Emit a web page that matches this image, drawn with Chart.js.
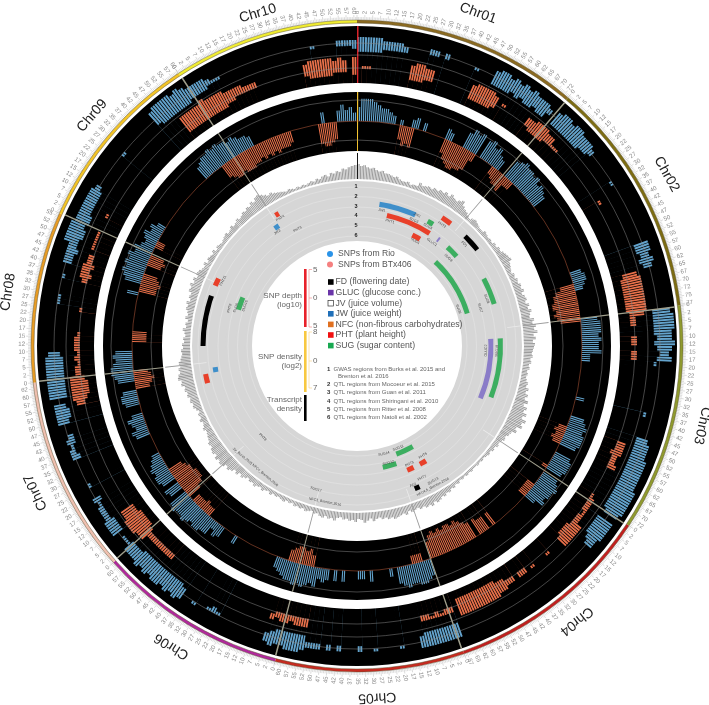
<!DOCTYPE html>
<html>
<head>
<meta charset="utf-8">
<style>body{margin:0;background:#fff}canvas{display:block}</style>
<script src="https://cdn.jsdelivr.net/npm/chart.js@4/dist/chart.umd.js"></script>
</head>
<body>
<canvas id="circos" width="709" height="705"></canvas>
<script>
let chrNames = ["Chr01","Chr02","Chr03","Chr04","Chr05","Chr06","Chr07","Chr08","Chr09","Chr10"];
let chrLengths = [74,78,74.5,68.5,62,62,64.5,56,60,61];
let chrColours = ["#8b6a20","#7d6d12","#8f9a2e","#c21f1f","#c62a20","#b0289c","#f0c0b0","#e89c24","#f2c326","#f0ec30"];
let chrLabelAngle = [20,61,103,141.4,176.7,211.7,245.5,278.8,311,343.4];
let chrLabelRadius = [354,354,354,352,352,353,353,353,351,347];

// one value per degree, ten per row, clockwise from Chr01 start
let depthRio = [
5,8,8,8,7,6,5,5,4,3, 0,2,0,0,3,4,0,3,0,0, 0,0,0,4,3,0,0,0,6,8, 7,8,0,7,8,6,7,5,4,0,
0,7,8,9,8,8,7,8,6,7, 6,5,0,0,0,0,0,0,0,0, 0,0,0,0,0,0,0,0,0,0, 0,4,5,5,4,3,0,0,0,0,
0,0,0,6,7,7,7,6,7,6, 6,7,3,3,0,0,0,0,0,0, 0,0,0,3,0,0,0,0,5,6, 7,6,7,7,7,6,0,0,6,7,
7,7,6,0,6,7,8,7,7,6, 7,4,0,0,0,0,0,0,0,0, 0,0,0,0,0,0,0,0,0,0, 0,0,0,0,0,0,0,0,0,0,
0,6,7,8,8,7,7,8,7,6, 0,3,0,0,0,0,4,0,3,3, 0,0,0,4,0,4,0,4,5,4, 7,6,7,8,7,8,7,7,6,5,
4,0,0,0,0,0,0,0,0,0, 0,0,3,0,0,0,4,5,3,6, 6,7,7,6,7,8,7,7,8,7, 0,5,6,0,5,6,6,5,6,5,
4,3,0,0,0,0,0,5,6,4, 5,6,4,0,0,5,6,6,5,0, 0,6,7,8,8,7,6,7,6,0, 0,0,0,0,0,0,0,0,0,0,
0,0,0,4,0,0,6,7,8,7, 8,7,8,6,7,5,4,5,6,4, 5,3,0,0,0,0,0,0,0,0, 0,0,0,0,0,0,0,0,5,6,
7,7,8,7,8,7,7,6,7,6, 5,5,4,0,0,0,0,0,0,0, 0,0,0,0,0,0,0,0,0,0, 0,4,0,0,0,4,6,4,5,3];
let depthBTx = [
0,0,0,0,0,0,0,0,0,0, 0,5,7,6,7,0,0,0,0,0, 0,0,0,5,7,8,9,9,8,8, 7,3,0,0,0,0,0,3,4,5,
5,6,3,3,0,0,0,0,0,0, 0,0,0,0,0,0,0,0,0,0, 0,0,0,0,0,0,0,0,0,0, 0,0,0,0,5,7,8,8,9,9,
8,9,8,7,0,0,0,0,0,0, 0,0,0,0,0,0,0,0,0,0, 0,0,0,0,0,0,0,0,0,0, 0,3,4,3,4,3,0,0,0,0,
0,0,2,0,0,0,0,0,3,3, 3,3,0,0,0,0,0,0,0,0, 0,0,5,0,5,5,6,0,6,7, 8,9,8,9,9,8,9,8,9,8,
6,0,0,3,3,3,0,0,0,0, 0,0,0,0,0,0,0,0,0,0, 0,0,0,0,0,0,0,0,0,0, 0,4,6,5,6,6,5,4,0,0,
0,0,0,0,0,0,0,0,0,0, 0,0,0,0,0,0,0,0,0,0, 0,3,3,4,3,3,3,0,5,7, 8,8,8,7,7,6,5,0,0,0,
0,0,0,0,0,0,0,0,0,0, 0,0,0,0,0,0,0,0,0,5, 6,7,6,5,0,0,0,0,0,0, 0,5,5,5,0,0,0,0,0,0,
0,0,0,0,6,6,7,6,5,0, 0,5,6,5,0,0,3,3,0,0, 0,0,0,0,0,0,0,0,0,0, 0,0,0,0,0,0,0,0,0,0,
0,0,0,5,6,7,7,6,7,7, 7,6,6,5,6,5,6,5,6,5, 5,5,4,0,0,0,0,0,0,0, 7,8,8,7,6,0,0,0,0,0];

let densityRioHigh = [
6,6,6,6,6,5,5,5,5,4, 0,0,0,0,5,5,0,5,0,0, 0,0,0,4,0,0,0,6,7,7, 6,7,6,7,6,7,6,6,6,5,
0,6,7,7,6,7,7,6,6,6, 5,0,0,0,0,0,0,4,0,0, 0,0,0,0,0,0,0,0,0,0, 6,6,5,6,5,0,0,0,0,0,
0,0,0,8,9,9,9,8,8,9, 8,7,8,3,0,0,0,0,0,0, 0,0,0,2,0,0,0,0,5,6, 6,6,7,7,7,7,7,7,8,8,
8,8,8,7,0,7,7,7,7,6, 6,0,0,0,0,0,0,0,0,0, 0,0,0,0,0,0,0,0,0,0, 0,0,0,0,0,0,0,0,0,0,
6,6,6,6,6,6,6,6,0,0, 0,5,0,0,0,0,5,0,0,5, 0,0,0,5,0,5,0,5,5,5, 6,7,7,7,6,6,7,6,0,0,
0,0,0,0,0,0,0,4,4,4, 0,0,5,0,0,6,7,6,7,6, 7,7,6,7,6,7,6,6,6,4, 4,0,6,6,6,5,5,5,4,5,
0,0,4,0,0,0,0,0,5,5, 4,5,4,0,0,6,6,6,6,0, 7,7,7,7,7,7,7,7,6,0, 0,0,0,0,0,0,0,0,4,4,
0,0,0,4,0,0,5,5,5,5, 7,7,7,7,6,6,6,6,6,6, 6,5,0,0,0,0,0,0,0,4, 0,0,0,0,0,0,0,0,7,8,
8,8,8,7,8,7,6,6,6,6, 5,4,4,0,0,0,0,0,0,0, 0,0,0,0,0,0,0,0,0,0, 0,4,0,0,0,0,5,5,5,5];
let densityRioLow = [
1,1,1,1,1,2,2,2,2,2, 0,0,0,0,3,3,0,3,0,0, 0,0,0,3,0,0,0,1,1,1, 1,2,1,2,1,1,2,1,1,3,
0,1,1,1,1,1,1,1,2,2, 3,0,0,0,0,0,0,3,0,0, 0,0,0,0,0,0,0,0,0,0, 1,1,2,1,2,0,0,0,0,0,
0,0,0,2,2,2,2,2,3,2, 3,4,3,2,0,0,0,0,0,0, 0,0,0,1,0,0,0,0,1,1, 1,1,1,1,1,1,1,1,1,1,
1,1,1,2,0,1,1,1,1,2, 3,0,0,0,0,0,0,0,0,0, 0,0,0,0,0,0,0,0,0,0, 0,0,0,0,0,0,0,0,0,0,
1,1,1,1,1,1,1,2,0,0, 0,4,0,0,0,0,4,0,0,3, 0,0,0,3,0,3,0,3,3,3, 1,1,1,1,1,1,2,3,0,0,
0,0,0,0,0,0,0,3,2,3, 0,0,4,0,0,2,1,1,1,1, 1,1,1,1,1,1,2,2,2,3, 3,0,2,2,2,3,3,3,3,2,
0,0,3,0,0,0,0,0,2,3, 3,2,2,0,0,2,1,1,2,0, 1,1,1,1,1,1,1,1,2,0, 0,0,0,0,0,0,0,0,3,3,
0,0,0,3,0,0,2,2,1,2, 2,1,1,2,1,1,2,2,2,2, 2,3,0,0,0,0,0,0,0,3, 0,0,0,0,0,0,0,0,2,1,
1,1,1,1,1,1,2,2,2,2, 3,3,3,0,0,0,0,0,0,0, 0,0,0,0,0,0,0,0,0,0, 0,3,0,0,0,0,3,3,3,2];
let densityBTxHigh = [
0,4,4,0,0,0,0,0,0,0, 0,6,7,7,6,6,0,0,0,0, 0,0,0,0,6,7,7,7,7,6, 0,5,0,0,0,0,0,6,6,7,
7,7,6,6,4,4,0,0,0,0, 0,0,0,0,0,0,0,0,0,5, 0,0,0,0,0,0,0,0,0,0, 0,0,0,0,0,7,8,8,8,8,
8,8,8,7,4,4,0,0,4,4, 0,4,4,0,0,0,0,0,0,0, 0,0,0,0,0,0,0,0,0,0, 6,6,6,5,5,6,0,0,0,0,
0,0,4,5,5,5,5,5,5,7, 7,7,7,7,0,0,0,5,0,0, 0,5,0,5,5,0,5,5,6,6, 7,7,7,7,7,7,7,7,7,0,
5,5,5,5,5,5,5,0,0,0, 0,0,0,0,0,0,0,0,0,0, 0,0,0,0,0,0,0,0,0,0, 6,6,6,5,6,6,5,6,0,0,
0,0,0,0,0,0,0,0,0,0, 0,0,0,0,0,0,0,0,0,0, 0,5,5,5,5,5,5,5,7,7, 8,8,8,7,7,0,0,0,0,0,
0,0,0,0,0,0,0,0,0,0, 0,0,0,0,0,0,0,0,6,7, 7,7,7,7,5,5,4,5,4,5, 5,5,4,0,0,0,0,4,0,0,
0,0,0,5,6,6,6,5,5,0, 5,5,5,5,0,0,0,5,0,0, 0,0,0,0,0,0,0,0,0,0, 0,0,0,0,0,0,0,0,0,0,
0,0,7,7,7,7,7,8,7,7, 7,7,6,6,6,6,5,5,5,0, 0,0,0,0,0,0,0,0,0,6, 7,7,7,7,7,6,7,6,0,7];
let densityBTxLow = [
0,3,3,0,0,0,0,0,0,0, 0,1,1,1,2,2,0,0,0,0, 0,0,0,0,1,1,1,1,1,2, 0,4,0,0,0,0,0,3,2,2,
2,2,3,3,3,3,0,0,0,0, 0,0,0,0,0,0,0,0,0,4, 0,0,0,0,0,0,0,0,0,0, 0,0,0,0,0,2,1,1,1,1,
1,1,1,2,2,2,0,0,2,2, 0,2,2,0,0,0,0,0,0,0, 0,0,0,0,0,0,0,0,0,0, 3,3,2,3,3,3,0,0,0,0,
0,0,3,3,3,3,4,3,3,3, 2,2,2,3,0,0,0,4,0,0, 0,4,0,3,3,0,3,3,2,2, 1,1,1,1,1,1,1,1,1,0,
3,3,4,3,4,3,3,0,0,0, 0,0,0,0,0,0,0,0,0,0, 0,0,0,0,0,0,0,0,0,0, 3,3,3,3,3,3,3,4,0,0,
0,0,0,0,0,0,0,0,0,0, 0,0,0,0,0,0,0,0,0,0, 0,3,3,3,3,3,3,3,2,1, 1,1,1,2,2,0,0,0,0,0,
0,0,0,0,0,0,0,0,0,0, 0,0,0,0,0,0,0,0,3,2, 1,1,1,2,3,3,3,3,3,3, 3,3,3,0,0,0,0,3,0,0,
0,0,0,3,2,3,2,3,3,0, 4,4,4,4,0,0,0,4,0,0, 0,0,0,0,0,0,0,0,0,0, 0,0,0,0,0,0,0,0,0,0,
0,0,1,1,1,1,1,1,1,1, 1,1,2,2,3,3,3,3,3,0, 0,0,0,0,0,0,0,0,0,2, 1,1,1,1,1,2,2,2,0,1];
let transcripts = [
15,13,14,12,11,12,10,9,10,8, 8,7,6,7,5,4,4,5,3,4, 4,8,6,7,8,7,9,8,10,9, 11,9,12,10,9,11,13,9,7,6,
4,3,5,6,5,4,3,3,5,4, 3,4,3,5,4,6,5,7,8,9, 10,7,6,5,4,6,5,7,6,8, 7,9,6,8,9,7,10,8,11,9,
8,12,10,13,11,14,10,12,9,11, 10,9,8,9,7,8,6,7,5,6, 5,6,8,7,10,8,11,9,13,10, 14,12,16,13,18,15,17,12,14,10,
9,7,8,6,5,6,4,5,3,4, 3,2,3,2,3,2,2,3,2,3, 2,3,2,4,3,5,4,6,5,7, 6,8,9,7,10,8,9,7,8,6,
7,8,6,9,7,8,9,10,8,9, 7,8,6,7,9,6,8,10,7,6, 9,7,8,6,7,5,6,9,7,8, 6,8,7,5,6,4,5,6,4,5,
4,5,3,4,3,5,4,3,4,3, 5,3,4,6,4,5,7,5,6,4, 6,8,6,9,7,10,12,10,13,14, 12,14,11,13,12,10,11,9,8,7,
6,8,6,5,7,5,6,4,6,8, 7,9,8,10,9,11,10,13,12,15, 14,12,13,11,12,10,9,8,9,7, 8,6,7,5,6,8,5,6,4,7,
5,6,8,7,9,6,8,7,10,9, 11,8,10,7,9,8,6,5,7,4, 6,5,4,6,3,5,4,3,4,5, 6,4,5,7,5,6,8,6,7,9,
8,10,9,12,10,13,14,12,10,8, 9,7,6,5,4,3,4,3,2,3, 2,3,2,3,4,3,5,4,6,7, 5,8,7,9,8,11,10,12,13,14];

// QTL regions, angles along the circle in degrees
let qtlTrait = ["FD","PHT","PHT","PHT","PHT","JW","JW","JW","SUG","SUG","SUG","SUG","SUG","GLUC","GLUC","PHT","PHT","PHT","PHT","SUG","SUG","SUG","SUG","SUG","FD","FD"];
let qtlTrack = [2,2,2,2,2,3,3,3,3,3,3,3,4,4,4,4,4,4,5,5,5,5,6,6,2,2];
let qtlStart = [44.5,33.5,293,256,328,9,259.5,325,29.5,62,87,0,42.5,87,37,12.9,149,155,26.5,287,161.5,0,43,151,270,156];
let qtlEnd   = [51.3,37.5,296,259.5,329.5,24,261.5,327,32,73,111,0,48,113,37.8,32.8,152,158,30.5,293,168,0,73.5,160,289,158];
let noteText = ["JW1","PHT1","JW2","SUG3","SUG4","PHT2","SUG1","GLUC1","FD1","SUG8","SUG6","SUG9","SUG7","GLUC2","SUG10","SUG14","SUG11","SUG12","PHT6","PHT5","PHT7","FD2","SUG13","NFC4,5_Brenton.2016","SUG17","NFC3_Brenton.2016","JV_Burks.2015 NFC4_Brenton.2016","PHT8","PHT3","JW3","PHT4","PHT11","PHT9","SUG5","SUG15"];
let noteAngle = [10.4,14.8,24.6,24.3,30.6,35,29,35.8,46.4,46,70,70,72.8,92,92,166,158,165,156,149,153.8,158,150.6,151.7,196,191.6,220,226,333,325,329,296,286.5,287.5,289.7];
let noteRadius = [138,129,144,138,139,148,120,128,148,127,108,138,129,129,140,111,110,121,129,128,147,150,155,160,149,159,158,131,131,139,149,149,133,127,119];

let sampleNames = ["SNPs from Rio","SNPs from BTx406"];
let traitNames = ["FD (flowering date)","GLUC (glucose conc.)","JV (juice volume)","JW (juice weight)","NFC (non-fibrous carbohydrates)","PHT (plant height)","SUG (sugar content)"];
let studyNames = ["GWAS regions from Burks et al. 2015 and","Brenton et al. 2016","QTL regions from Mocoeur et al. 2015","QTL regions from Guan et al. 2011","QTL regions from Shiringani et al. 2010","QTL regions from Ritter et al. 2008","QTL regions from Natoli et al. 2002"];
let studyNumbers = ["1","","2","3","4","5","6"];

const BLUE = "#63a3cc", ORANGE = "#e8704a", GREY = "#d6d6d6";
const traitColours = {FD:"#000000",PHT:"#e8402a",JW:"#3f8fca",SUG:"#3cae60",GLUC:"#8a7cc8"};
const trackRadius = {2:154,3:143.5,4:134,5:124,6:115};
const perMb = 360 / chrLengths.reduce((a,b)=>a+b,0);
const chrSpans = chrLengths.map(l=>l*perMb);

function disc(r,colour){
  return {data:[r],backgroundColor:colour,borderWidth:0};
}
function fill(values,colour){
  return {data:values,backgroundColor:colour,borderColor:colour,borderWidth:0.4};
}
// each degree is drawn as two hairlines of the same value
function hatch(values,colour,line,gap){
  const data=[],colours=[];
  values.forEach(v=>{
    data.push(v,0,v,0);
    colours.push(colour,"rgba(0,0,0,0)",colour,"rgba(0,0,0,0)");
  });
  const pattern=[line,gap,line,gap];
  return {data:data,backgroundColor:colours,borderWidth:0,angle:c=>pattern[c.dataIndex%4]};
}
// thin radial mark at every chromosome start
function chrMarks(r,first,others){
  const w=0.28, angles=[], data=[], colours=[];
  chrSpans.forEach((s,i)=>{
    angles.push(w,s-w);
    data.push(r,0);
    colours.push(i==0?first:others,"rgba(0,0,0,0)");
  });
  return {data:data,backgroundColor:colours,borderWidth:0,angle:c=>angles[c.dataIndex]};
}
function qtlLayer(track){
  const idx=qtlTrack.map((t,i)=>t==track&&qtlEnd[i]>qtlStart[i]?i:-1).filter(i=>i>=0).sort((a,b)=>qtlStart[a]-qtlStart[b]);
  const angles=[],data=[],colours=[];
  let at=0;
  idx.forEach(i=>{
    angles.push(Math.max(qtlStart[i]-at,0.001),qtlEnd[i]-qtlStart[i]);
    data.push(0,trackRadius[track]+2.5);
    colours.push(GREY,traitColours[qtlTrait[i]]);
    at=qtlEnd[i];
  });
  angles.push(360-at);data.push(0);colours.push(GREY);
  return {data:data,backgroundColor:colours,borderWidth:0,angle:c=>angles[c.dataIndex]};
}

const riseRio=v=>225+v*2.8, dropBTx=v=>225-v*2.9;
const cloudRio=v=>291+v*3, cloudBTx=v=>268+v*3;

// painted back to front
let layers = [
  {data:chrLengths.map(()=>326),backgroundColor:chrColours,borderWidth:0,angle:c=>chrSpans[c.dataIndex]},
  disc(323,"#ffffff"),
  disc(320,"#000000"),
  hatch(densityRioHigh.map(v=>v?cloudRio(v):0),BLUE,0.36,0.14),
  fill(densityRioHigh.map((v,i)=>v?cloudRio(densityRioLow[i]):0),"#000"),
  hatch(densityBTxHigh.map(v=>v?cloudBTx(v):0),ORANGE,0.36,0.14),
  fill(densityBTxHigh.map((v,i)=>v?cloudBTx(densityBTxLow[i]):0),"#000"),
  chrMarks(320,"#d8232a","#a09f8c"),
  disc(263,"#ffffff"),
  disc(254,"#000000"),
  hatch(depthRio.map(v=>v?riseRio(v):0),BLUE,0.28,0.22),
  disc(225,"#000000"),
  hatch(depthBTx.map(v=>v?225:0),ORANGE,0.28,0.22),
  fill(depthBTx.map(v=>v?dropBTx(v):0),"#000"),
  chrMarks(254,"#f4c430","#a09f8c"),
  disc(195,"#ffffff"),
  hatch(transcripts.map(v=>167+v),"#9c9c9c",0.34,0.16),
  chrMarks(193,"#000000","#9c9c9c"),
  disc(167,"#ffffff"),
  disc(165,GREY),
  chrMarks(165,"rgba(0,0,0,0)","#ececec"),
];
[2,3,4,5,6].forEach(t=>{
  layers.push(qtlLayer(t));
  layers.push(disc(trackRadius[t]-2.5,GREY));
});
layers.push(disc(105,"#ffffff"));

let gridRadii = [0,110,119.5,129,139,149.5,159,206,225,246,278,291,303,323,326];
let gridColours = ["","#e9e9e9","#e9e9e9","#e9e9e9","#e9e9e9","#e9e9e9","#e9e9e9","#8a8a8a","#c2613f","#8a8a8a","#8a8a8a","#8a8a8a","#8a8a8a","#5a5030","#5a5030"];

function text(ctx,str,x,y,font,colour,align,base){
  ctx.font=font;ctx.fillStyle=colour;ctx.textAlign=align||"left";ctx.textBaseline=base||"middle";
  ctx.fillText(str,x,y);
}

let outerText = {
  id:"outerText",
  afterDraw(chart){
    const ctx=chart.ctx, s=chart.scales.r, cx=s.xCenter, cy=s.yCenter, rad=Math.PI/180;
    ctx.save();
    // Mb ticks and labels
    let start=0;
    chrLengths.forEach(len=>{
      for(let mb=0;mb<=len;mb+=0.5){
        const a=(start+mb*perMb)*rad;
        const major=mb%2.5==0;
        ctx.strokeStyle="#a6a6a6";ctx.lineWidth=0.4;
        ctx.beginPath();
        ctx.moveTo(cx+326*Math.sin(a),cy-326*Math.cos(a));
        const r2=major?331:329;
        ctx.lineTo(cx+r2*Math.sin(a),cy-r2*Math.cos(a));
        ctx.stroke();
        if(major){
          const deg=start+mb*perMb, right=deg<180;
          ctx.save();
          ctx.translate(cx+332*Math.sin(a),cy-332*Math.cos(a));
          ctx.rotate(right?a-Math.PI/2:a+Math.PI/2);
          text(ctx,String(Math.floor(mb)),0,0,"6px 'Liberation Sans'","#888",right?"left":"right");
          ctx.restore();
        }
      }
      start+=len*perMb;
    });
    chrNames.forEach((n,i)=>{
      const a=chrLabelAngle[i]*rad, r=chrLabelRadius[i];
      ctx.save();
      ctx.translate(cx+r*Math.sin(a),cy-r*Math.cos(a));
      ctx.rotate(a);
      text(ctx,n,0,0,"14px 'Liberation Sans'","#222","center");
      ctx.restore();
    });
    // QTL names
    noteText.forEach((n,i)=>{
      const d=noteAngle[i], a=d*rad, flip=d>90&&d<270;
      ctx.save();
      ctx.translate(cx+noteRadius[i]*Math.sin(a),cy-noteRadius[i]*Math.cos(a));
      ctx.rotate(flip?a-Math.PI:a);
      text(ctx,n,0,0,"3.6px 'Liberation Sans'","#444","center");
      ctx.restore();
    });
    // track numbers
    [160,150,140,131,121,111].forEach((r,i)=>{
      text(ctx,String(i+1),cx-1,cy-r,"bold 5.5px 'Liberation Sans'","#222","center");
    });
    // centre legend
    const dots=["#2a93e8","#f58080"];
    sampleNames.forEach((n,i)=>{
      const y=254+i*10.5;
      ctx.fillStyle=dots[i];ctx.beginPath();ctx.arc(330,y,3,0,Math.PI*2);ctx.fill();
      text(ctx,n,338,y,"8.6px 'Liberation Sans'","#555");
    });
    const swatch=["#000","#6a35a8",null,"#1f6fb8","#e07020","#f01010","#18a850"];
    traitNames.forEach((n,i)=>{
      const y=282+i*10.6;
      if(swatch[i]){ctx.fillStyle=swatch[i];ctx.fillRect(328,y-2.8,5.6,5.6);}
      else{ctx.strokeStyle="#333";ctx.lineWidth=0.7;ctx.strokeRect(328,y-2.8,5.6,5.6);}
      text(ctx,n,335.5,y,"8.7px 'Liberation Sans'","#555");
    });
    ctx.fillStyle="#e8202a";ctx.fillRect(304,269,2.6,58);
    ctx.fillStyle="#f8c840";ctx.fillRect(304,331,2.6,61);
    ctx.fillStyle="#000";ctx.fillRect(304,395,2.6,26);
    ctx.lineWidth=0.6;
    ctx.strokeStyle="#f08080";
    ctx.beginPath();ctx.moveTo(312,269.5);ctx.lineTo(309,269.5);ctx.lineTo(309,327);ctx.lineTo(312,327);ctx.moveTo(309,298);ctx.lineTo(312,298);ctx.stroke();
    ctx.strokeStyle="#f8d080";
    ctx.beginPath();ctx.moveTo(312,332);ctx.lineTo(309,332);ctx.lineTo(309,388);ctx.lineTo(312,388);ctx.moveTo(309,361);ctx.lineTo(312,361);ctx.stroke();
    const f8="8px 'Liberation Sans'";
    text(ctx,"5",313,270,f8,"#666");text(ctx,"0",313,298,f8,"#666");text(ctx,"5",313,326,f8,"#666");
    text(ctx,"8",313,332,f8,"#666");text(ctx,"0",313,361,f8,"#666");text(ctx,"7",313,388,f8,"#666");
    text(ctx,"SNP depth",302,296,f8,"#666","right");text(ctx,"(log10)",302,305,f8,"#666","right");
    text(ctx,"SNP density",302,357,f8,"#666","right");text(ctx,"(log2)",302,366,f8,"#666","right");
    text(ctx,"Transcript",302,399.5,f8,"#666","right");text(ctx,"density",302,409,f8,"#666","right");
    let ys=[369,376,384,392,401,409,417];
    studyNames.forEach((n,i)=>{
      if(studyNumbers[i]) text(ctx,studyNumbers[i],327,ys[i],"bold 6px 'Liberation Sans'","#333");
      text(ctx,n,i==1?338:333.5,ys[i],"6px 'Liberation Sans'","#666");
    });
    ctx.restore();
  }
};

new Chart(document.getElementById("circos"),{
  type:"polarArea",
  data:{labels:[],datasets:layers.slice().reverse()},
  options:{
    responsive:false,
    animation:false,
    events:[],
    layout:{padding:{left:11,right:6,top:0,bottom:13}},
    plugins:{legend:{display:false},tooltip:{enabled:false}},
    scales:{
      r:{
        min:0,max:346,
        ticks:{display:false},
        pointLabels:{display:false},
        angleLines:{display:false},
        grid:{
          z:1,circular:true,lineWidth:0.5,
          color:c=>gridColours[gridRadii.indexOf(c.tick.value)]||"rgba(0,0,0,0)"
        },
        afterBuildTicks:s=>{s.ticks=gridRadii.map(v=>({value:v}));}
      }
    }
  },
  plugins:[outerText]
});
</script>
</body>
</html>
